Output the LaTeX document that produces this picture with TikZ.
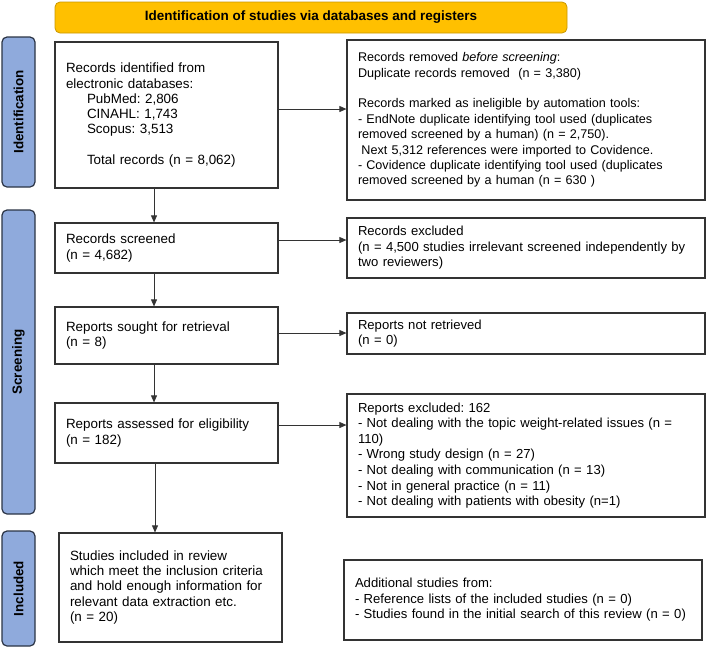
\documentclass[tikz,border=0pt]{standalone}
\usepackage{fontspec}
\setmainfont{Liberation Sans}
\usetikzlibrary{arrows.meta}
\frenchspacing
\definecolor{gold}{HTML}{FFC000}
\definecolor{golddark}{HTML}{C99700}
\definecolor{tabblue}{HTML}{8FAADC}
\definecolor{tabedge}{HTML}{2B3445}
\definecolor{boxedge}{HTML}{333333}
\tikzset{
  flowbox/.style={draw=boxedge, line width=1.2pt, fill=white, align=left,
    inner xsep=11pt, inner ysep=0pt, minimum height=#1, anchor=center},
  lbox/.style={flowbox=#1, minimum width=223pt, text width=201pt,
    font=\fontsize{13.4}{15.2}\selectfont},
  rbox/.style={flowbox=#1, minimum width=358pt, text width=336pt,
    font=\fontsize{13.1}{15.6}\selectfont},
  rboxsmall/.style={rbox=#1, font=\fontsize{12.6}{15.4}\selectfont},
  tabbox/.style={draw=tabedge, line width=1.2pt, fill=tabblue, rounded corners=5pt,
    rotate=90, minimum width=#1, minimum height=33pt, inner sep=0pt,
    font=\fontsize{13.4}{15}\selectfont\bfseries},
  banner/.style={draw=golddark, line width=0.8pt, fill=gold, rounded corners=5pt,
    minimum width=512pt, minimum height=31pt, inner sep=0pt,
    font=\fontsize{13.5}{15}\selectfont\bfseries},
  arr/.style={draw=black!80, line width=0.7pt, -{Triangle[length=7pt,width=6pt]}}
}
\begin{document}
\begin{tikzpicture}[x=1pt,y=-1pt]
\useasboundingbox (0,0) rectangle (709,648);

\node[banner] (banner) at (311,17.5) {Identification of studies via databases and registers};

\node[tabbox=150pt] (idtab) at (18.5,112) {Identification};
\node[tabbox=304pt] (scrtab) at (18.5,362) {Screening};
\node[tabbox=115pt] (inctab) at (18.5,588.5) {Included};

\node[lbox=146pt] (ident) at (166.5,115) {Records identified from\\
electronic databases:\\
\hspace{21pt}PubMed: 2,806\\
\hspace{21pt}CINAHL: 1,743\\
\hspace{21pt}Scopus: 3,513\\[15.2pt]
\hspace{21pt}Total records (n = 8,062)};

\node[rboxsmall=160pt] (removed) at (526,120) {Records removed \textit{before screening}:\\
Duplicate records removed\ \ (n = 3,380)\\[15.4pt]
Records marked as ineligible by automation tools:\\
- EndNote duplicate identifying tool used (duplicates\\
removed screened by a human) (n = 2,750).\\
\hspace{3.4pt}Next 5,312 references were imported to Covidence.\\
- Covidence duplicate identifying tool used (duplicates\\
removed screened by a human (n = 630 )};

\node[lbox=50pt] (screened) at (166.5,248) {Records screened\\(n = 4,682)};
\node[rbox=60pt] (excl) at (526,248) {Records excluded\\
(n = 4,500 studies irrelevant screened independently by\\
two reviewers)};

\node[lbox=57pt] (sought) at (166.5,335.5) {Reports sought for retrieval\\(n = 8)};
\node[rbox=41pt] (notret) at (526,333.5) {Reports not retrieved\\(n = 0)};

\node[lbox=60pt] (assessed) at (166.5,433) {Reports assessed for eligibility\\(n = 182)};
\node[rbox=123pt] (repexcl) at (526,455.5) {Reports excluded: 162\\
- Not dealing with the topic weight-related issues (n =\\
110)\\
- Wrong study design (n = 27)\\
- Not dealing with communication (n = 13)\\
- Not in general practice (n = 11)\\
- Not dealing with patients with obesity (n=1)};

\node[lbox=109pt] (incl) at (170.5,587.5) {Studies included in review\\
which meet the inclusion criteria\\
and hold enough information for\\
relevant data extraction etc.\\
(n = 20)};
\node[rbox=80pt] (addl) at (523,600) {Additional studies from:\\
- Reference lists of the included studies (n = 0)\\
- Studies found in the initial search of this review (n = 0)};

% horizontal arrows
\draw[arr] ([yshift=6pt]ident.east) -- ([yshift=6pt]ident.east -| removed.west);
\draw[arr] ([yshift=8pt]screened.east) -- ([yshift=8pt]screened.east -| excl.west);
\draw[arr] ([yshift=2.5pt]sought.east) -- ([yshift=2.5pt]sought.east -| notret.west);
\draw[arr] ([yshift=8pt]assessed.east) -- ([yshift=8pt]assessed.east -| repexcl.west);

% vertical arrows
\draw[arr] ([xshift=-12.5pt]ident.south) -- ([xshift=-12.5pt]ident.south |- screened.north);
\draw[arr] ([xshift=-12.5pt]screened.south) -- ([xshift=-12.5pt]screened.south |- sought.north);
\draw[arr] ([xshift=-12.5pt]sought.south) -- ([xshift=-12.5pt]sought.south |- assessed.north);
\draw[arr] ([xshift=-11.5pt]assessed.south) -- ([xshift=-11.5pt]assessed.south |- incl.north);
\end{tikzpicture}
\end{document}
